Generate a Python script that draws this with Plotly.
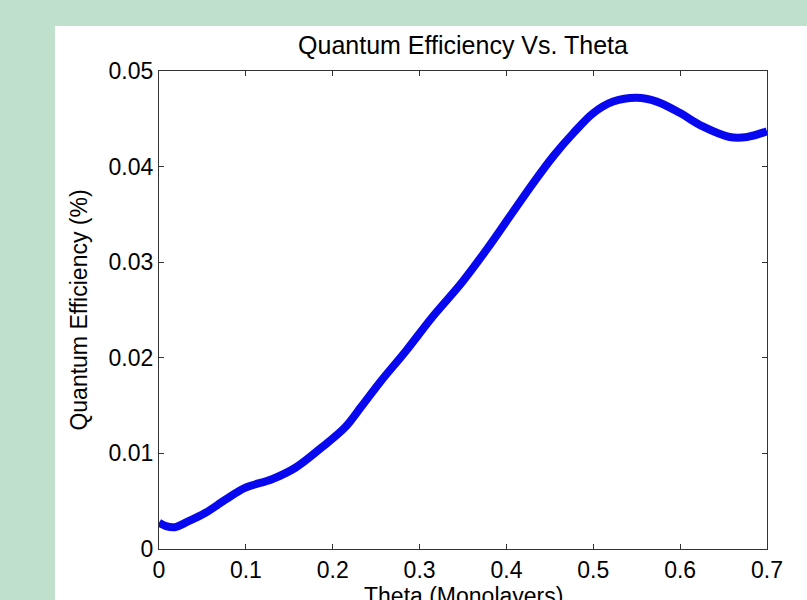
import plotly.graph_objects as go

theta = [0.0, 0.008, 0.018, 0.033, 0.053, 0.076, 0.099, 0.13, 0.157, 0.187, 0.214,
         0.233, 0.254, 0.285, 0.315, 0.348, 0.377, 0.404, 0.431, 0.455, 0.477,
         0.5, 0.523, 0.55, 0.573, 0.6, 0.626, 0.657, 0.677, 0.7]
qe = [0.00275, 0.0024, 0.00228, 0.00286, 0.00376, 0.00513, 0.0064, 0.0073, 0.0085,
      0.0106, 0.0127, 0.0149, 0.0174, 0.0208, 0.0243, 0.0278, 0.0313, 0.0348,
      0.0383, 0.0412, 0.0435, 0.0456, 0.0468, 0.0472, 0.0468, 0.0456, 0.0442,
      0.0431, 0.0431, 0.0437]

x_ticks = [0, 0.1, 0.2, 0.3, 0.4, 0.5, 0.6, 0.7]
x_tick_labels = ["0", "0.1", "0.2", "0.3", "0.4", "0.5", "0.6", "0.7"]
y_ticks = [0, 0.01, 0.02, 0.03, 0.04, 0.05]
y_tick_labels = ["0", "0.01", "0.02", "0.03", "0.04", "0.05"]

FONT = "Arial, Liberation Sans, sans-serif"

fig = go.Figure()
fig.add_trace(go.Scatter(x=theta, y=qe, mode="lines",
                         line=dict(color="#0808f0", width=8, shape="spline"),
                         showlegend=False))

L, R, T, B = 159, 40, 71, 51
W, H = 807, 600
pw, ph = W - L - R, H - T - B

fig.add_shape(type="rect", xref="paper", yref="paper",
              x0=(55 - L) / pw, x1=(W - L) / pw + 0.01,
              y0=-(B + 5) / ph, y1=(H - 26 - B) / ph,
              fillcolor="white", line=dict(width=0), layer="below")

axis_common = dict(showgrid=False, zeroline=False, showline=True, linecolor="#333333",
                   linewidth=1.2, ticks="inside", ticklen=5, tickcolor="#333333",
                   mirror="ticks", tickfont=dict(family=FONT, size=23, color="black"))

fig.update_xaxes(range=[0, 0.7], tickvals=x_ticks, ticktext=x_tick_labels, **axis_common)
fig.update_yaxes(range=[0, 0.05], tickvals=y_ticks, ticktext=y_tick_labels,
                 title=dict(text="Quantum Efficiency (%)", font=dict(family=FONT, size=23, color="black"),
                            standoff=14),
                 **axis_common)

fig.add_annotation(text="Theta (Monolayers)", xref="paper", yref="paper",
                   x=0.5, y=-(581 - (H - B)) / ph, xanchor="center", yanchor="top",
                   showarrow=False, font=dict(family=FONT, size=23, color="black"))

fig.update_layout(
    width=W, height=H,
    margin=dict(l=L, r=R, t=T, b=B, autoexpand=False),
    paper_bgcolor="rgb(191,225,203)",
    plot_bgcolor="white",
    title=dict(text="Quantum Efficiency Vs. Theta", x=(L + pw / 2) / W, xanchor="center",
               y=1 - 45 / H, yanchor="middle",
               font=dict(family=FONT, size=25, color="black")),
)

fig.write_html("out.html", config={"displayModeBar": False},
               post_script="document.body.style.margin='0';document.body.style.padding='0';")
